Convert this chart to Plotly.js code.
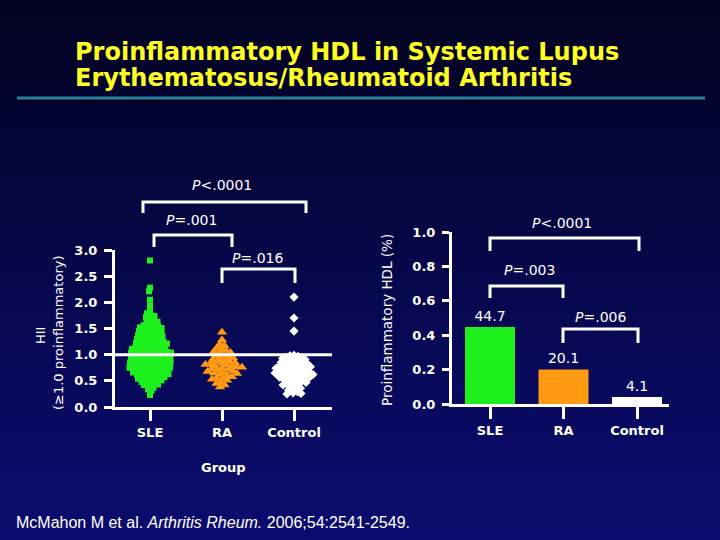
<!DOCTYPE html>
<html><head><meta charset="utf-8">
<script src="https://cdn.plot.ly/plotly-3.0.1.min.js"></script>
<style>
html,body{margin:0;padding:0;width:720px;height:540px;overflow:hidden;
background:linear-gradient(to bottom,#020220 0%,#05053a 30%,#09095c 70%,#0c0c70 100%);}
#chart{width:720px;height:540px;}
</style>
</head><body><div id="chart"></div>
<script>
// ---------------- data ----------------
const groups = ['SLE', 'RA', 'Control'];

const hiiSLE = [2.80, 2.28, 2.21, 2.05, 1.94, 1.84, 1.79, 1.76, 1.74, 1.72,
  1.68, 1.66, 1.64, 1.63, 1.61, 1.58, 1.57, 1.56, 1.55, 1.53, 1.52, 1.51,
  1.49, 1.48, 1.47, 1.46, 1.45, 1.43, 1.42, 1.41, 1.40,
  1.39, 1.38, 1.37, 1.36, 1.35, 1.34, 1.33, 1.32, 1.31, 1.30,
  1.29, 1.28, 1.27, 1.26, 1.25, 1.25, 1.24, 1.23, 1.22, 1.21, 1.21, 1.20,
  1.19, 1.18, 1.17, 1.16, 1.15, 1.15, 1.14, 1.13, 1.12, 1.11, 1.11, 1.10,
  1.09, 1.08, 1.08, 1.07, 1.06, 1.05, 1.05, 1.04, 1.04, 1.03, 1.02, 1.02, 1.01, 1.00,
  0.99, 0.98, 0.97, 0.97, 0.96, 0.95, 0.95, 0.94, 0.94, 0.93, 0.92, 0.91, 0.91, 0.90,
  0.89, 0.88, 0.88, 0.87, 0.86, 0.86, 0.85, 0.85, 0.84, 0.83, 0.82, 0.82, 0.81, 0.80,
  0.79, 0.78, 0.78, 0.77, 0.76, 0.76, 0.75, 0.75, 0.74, 0.73, 0.72, 0.72, 0.71, 0.70,
  0.69, 0.68, 0.67, 0.67, 0.66, 0.65, 0.65, 0.64, 0.63, 0.62, 0.62, 0.61, 0.60,
  0.59, 0.58, 0.57, 0.56, 0.55, 0.54, 0.53, 0.52, 0.51, 0.50,
  0.48, 0.46, 0.45, 0.43, 0.42, 0.40, 0.37, 0.34, 0.31, 0.23];

const hiiRA = [1.43, 1.28, 1.20, 1.17, 1.13, 1.10, 1.08, 1.06, 1.04, 1.02,
  0.99, 0.97, 0.96, 0.94, 0.92, 0.90, 0.89, 0.87, 0.86, 0.85,
  0.83, 0.82, 0.81, 0.80, 0.79, 0.78, 0.77, 0.76, 0.74, 0.73,
  0.72, 0.71, 0.69, 0.68, 0.66, 0.65, 0.64, 0.62, 0.60, 0.58,
  0.56, 0.55, 0.53, 0.51, 0.48, 0.45, 0.42, 0.38];

const hiiControl = [2.10, 1.70, 1.45, 0.99, 0.98, 0.97, 0.95, 0.94, 0.93, 0.92,
  0.91, 0.89, 0.88, 0.87, 0.86, 0.85, 0.84, 0.83, 0.82, 0.81,
  0.80, 0.79, 0.78, 0.78, 0.77, 0.76, 0.75, 0.74, 0.74, 0.73,
  0.72, 0.71, 0.70, 0.69, 0.68, 0.68, 0.67, 0.66, 0.65, 0.65,
  0.64, 0.63, 0.62, 0.62, 0.61, 0.60, 0.59, 0.58, 0.57, 0.56,
  0.55, 0.55, 0.54, 0.53, 0.52, 0.51, 0.49, 0.48, 0.47, 0.46,
  0.44, 0.43, 0.42, 0.40, 0.38, 0.36, 0.34, 0.32, 0.29, 0.27, 0.26, 0.25];

const pctProinflammatory = [44.7, 20.1, 4.1];
const hiiTicks = [0, 0.5, 1.0, 1.5, 2.0, 2.5, 3.0];
const pctTicks = [0, 0.2, 0.4, 0.6, 0.8, 1.0];
const hiiCutoff = 1.0;

const pLeft = [
  {text: '<i>P</i>&lt;.0001', bracket: [143, 306, 202, 213], label: [222, 185]},
  {text: '<i>P</i>=.001',     bracket: [154, 232, 235, 247], label: [191, 220]},
  {text: '<i>P</i>=.016',     bracket: [222, 295, 269, 283], label: [257, 258]}
];
const pRight = [
  {text: '<i>P</i>&lt;.0001', bracket: [490, 639, 238, 251], label: [562, 223]},
  {text: '<i>P</i>=.003',     bracket: [490, 563, 286, 298], label: [529, 270]},
  {text: '<i>P</i>=.006',     bracket: [563, 638, 329, 343], label: [600, 317]}
];

// ---------------- geometry helpers ----------------
const W = 720, H = 540;
const px = x => x / W;
const py = y => 1 - y / H;

const L = {x0: 115, x1: 332, yb: 407, yt: 250, cat0: 150, step: 72, ymax: 3};
const R = {x0: 452, x1: 669, yb: 404, yt: 232, cat0: 490, step: 73.5, ymax: 1};
const xRangeL = [(L.x0 - L.cat0) / L.step, (L.x1 - L.cat0) / L.step];
const xRangeR = [(R.x0 - R.cat0) / R.step, (R.x1 - R.cat0) / R.step];
const yPxL = (L.yb - L.yt) / L.ymax;

// beeswarm placement (layout of points side by side, values untouched)
function swarmX(vals, centerIdx, diam) {
  const idx = vals.map((_, i) => i).sort((a, b) => vals[b] - vals[a]);
  const placed = [];
  const xs = new Array(vals.length);
  idx.forEach((i, n) => {
    const y = vals[i] * yPxL;
    let chosen = 0;
    for (let s = 0; s < 400; s++) {
      const sgn = n % 2 ? 1 : -1;
      const cands = s === 0 ? [0] : [sgn * s * 0.5, -sgn * s * 0.5];
      let ok = null;
      for (const c of cands) {
        if (placed.every(p => (p.x - c) ** 2 + (p.y - y) ** 2 >= diam * diam)) { ok = c; break; }
      }
      if (ok !== null) { chosen = ok; break; }
    }
    placed.push({x: chosen, y});
    xs[i] = centerIdx + chosen / L.step;
  });
  return xs;
}

const FONT = 'DejaVu Sans';
const white = '#ffffff';

const traces = [
  {type: 'scatter', mode: 'markers', name: groups[0], x: swarmX(hiiSLE, 0, 3.7), y: hiiSLE,
   xaxis: 'x', yaxis: 'y', marker: {symbol: 'square', size: 6, color: '#1ef01e'}, hoverinfo: 'skip'},
  {type: 'scatter', mode: 'markers', name: groups[1], x: swarmX(hiiRA, 1, 4.6), y: hiiRA,
   xaxis: 'x', yaxis: 'y', marker: {symbol: 'triangle-up', size: 9, color: '#ff9a12'}, hoverinfo: 'skip'},
  {type: 'scatter', mode: 'markers', name: groups[2], x: swarmX(hiiControl, 2, 3.8), y: hiiControl,
   xaxis: 'x', yaxis: 'y', marker: {symbol: 'diamond', size: 7, color: white}, hoverinfo: 'skip'},
  {type: 'bar', x: [0, 1, 2], y: pctProinflammatory.map(v => v / 100), xaxis: 'x2', yaxis: 'y2',
   width: 0.68, marker: {color: ['#1ef01e', '#ff9a12', white], line: {width: 0}},
   text: pctProinflammatory.map(v => v.toFixed(1)), textposition: 'outside', cliponaxis: false,
   textfont: {family: FONT, size: 14, color: white}, hoverinfo: 'skip'}
];

function axisCommon() {
  return {showline: true, linecolor: white, linewidth: 3, ticks: 'outside', tickwidth: 3,
    tickcolor: white, showgrid: false, zeroline: false, fixedrange: true,
    tickfont: {family: FONT, size: 13, color: white, weight: 'bold'}};
}

const shapes = [
  {type: 'line', xref: 'paper', yref: 'paper', x0: px(17), x1: px(705), y0: py(101), y1: py(101),
   line: {color: '#01011a', width: 2}},
  {type: 'line', xref: 'paper', yref: 'paper', x0: px(17), x1: px(705), y0: py(98), y1: py(98),
   line: {color: '#2c7f9c', width: 3}},
  {type: 'line', xref: 'x', yref: 'y', x0: xRangeL[0], x1: xRangeL[1], y0: hiiCutoff, y1: hiiCutoff,
   line: {color: white, width: 3}}
];
const annotations = [
  {text: 'Proinflammatory HDL in Systemic Lupus', x: px(73), y: py(52), xanchor: 'left',
   font: {family: FONT, size: 24, color: '#ffff22', weight: 'bold'}},
  {text: 'Erythematosus/Rheumatoid Arthritis', x: px(73), y: py(78), xanchor: 'left',
   font: {family: FONT, size: 24, color: '#ffff22', weight: 'bold'}},
  {text: 'HII', x: px(40), y: py(336), textangle: -90,
   font: {family: FONT, size: 13, color: white}},
  {text: '(≥1.0 proinflammatory)', x: px(58), y: py(333), textangle: -90,
   font: {family: FONT, size: 13, color: white}},
  {text: 'Proinflammatory HDL (%)', x: px(387), y: py(320), textangle: -90,
   font: {family: FONT, size: 13.5, color: white}},
  {text: 'Group', x: px(223), y: py(467), font: {family: FONT, size: 13, color: white, weight: 'bold'}},
  {text: 'McMahon M et al. <i>Arthritis Rheum.</i> 2006;54:2541-2549.', x: px(14), y: py(522),
   xanchor: 'left', font: {family: 'Liberation Sans', size: 16, color: white}}
];
[...pLeft, ...pRight].forEach(p => {
  const [xl, xr, yt, yb] = p.bracket;
  shapes.push({type: 'path', xref: 'paper', yref: 'paper',
    path: `M ${px(xl)},${py(yb)} L ${px(xl)},${py(yt)} L ${px(xr)},${py(yt)} L ${px(xr)},${py(yb)}`,
    line: {color: white, width: 3}});
  annotations.push({text: p.text, x: px(p.label[0]), y: py(p.label[1]),
    font: {family: FONT, size: 14, color: white}});
});
annotations.forEach(a => {
  a.xref = 'paper'; a.yref = 'paper'; a.showarrow = false;
  if (!a.xanchor) a.xanchor = 'center';
  a.yanchor = 'middle';
});

const layout = {
  width: W, height: H, margin: {l: 0, r: 0, t: 0, b: 0},
  paper_bgcolor: 'rgba(0,0,0,0)', plot_bgcolor: 'rgba(0,0,0,0)', showlegend: false,
  xaxis: Object.assign(axisCommon(), {domain: [px(L.x0), px(L.x1)], range: xRangeL,
    tickvals: [0, 1, 2], ticktext: groups, ticklen: 11, anchor: 'y'}),
  yaxis: Object.assign(axisCommon(), {domain: [py(L.yb), py(L.yt)], range: [0, L.ymax],
    tickvals: hiiTicks, tickformat: '.1f', ticklen: 8, ticklabelstandoff: 4, anchor: 'x'}),
  xaxis2: Object.assign(axisCommon(), {domain: [px(R.x0), px(R.x1)], range: xRangeR,
    tickvals: [0, 1, 2], ticktext: groups, ticklen: 12, anchor: 'y2'}),
  yaxis2: Object.assign(axisCommon(), {domain: [py(R.yb), py(R.yt)], range: [0, R.ymax],
    tickvals: pctTicks, tickformat: '.1f', ticklen: 7, ticklabelstandoff: 4, anchor: 'x2'}),
  shapes, annotations
};

Plotly.newPlot('chart', traces, layout, {displayModeBar: false, staticPlot: true});
</script>
</body></html>
